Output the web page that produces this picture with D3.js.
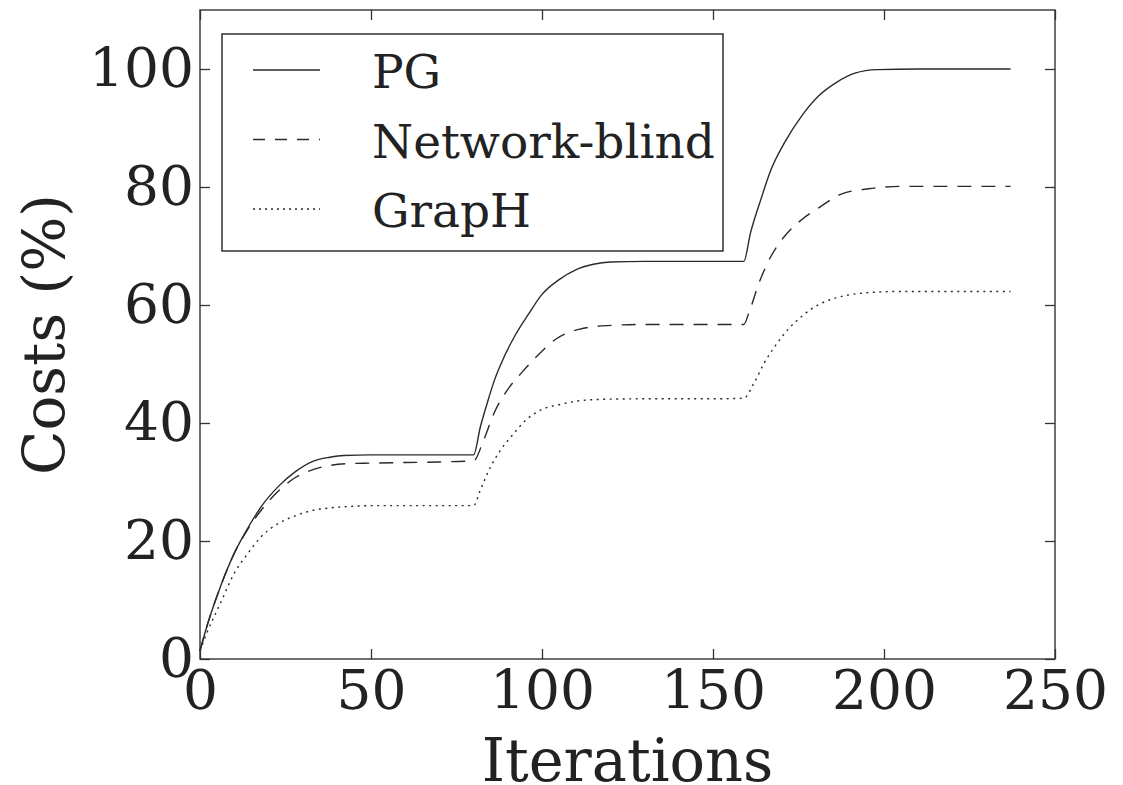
<!DOCTYPE html>
<html lang="en">
<head>
    <meta charset="UTF-8">
    <title>Costs vs Iterations</title>
    <script src="https://d3js.org/d3.v7.min.js"></script>
    <style>
        body {
            margin: 0;
            background: #fff;
        }

        svg text {
            font-family: "DejaVu Serif", serif;
            fill: #222;
        }

        .axis path {
            display: none;
        }

        .axis line {
            stroke: #333;
            stroke-width: 1.3px;
        }

        .series {
            fill: none;
            stroke: #2a2a2a;
            stroke-width: 1.4px;
        }
    </style>
</head>
<body>
    <div id="chart"></div>

    <script>
        // values
        const pgIter = [0, 2, 6, 10, 14, 18, 23, 28, 33, 38, 42, 50, 60, 70, 80, 82, 84, 86, 89, 92, 96, 100, 105, 110, 115, 120, 130, 140, 150, 159, 161, 164, 167, 171, 176, 181, 186, 191.5, 198, 210, 225, 237];
        const pgCost = [1.4, 5.5, 12.3, 17.9, 22.2, 25.9, 29.3, 31.8, 33.5, 34.2, 34.5, 34.6, 34.6, 34.6, 34.6, 39.4, 43.4, 47.1, 51.3, 54.7, 58.4, 61.8, 64.3, 66.0, 66.9, 67.3, 67.4, 67.4, 67.4, 67.4, 72.3, 77.9, 83.0, 87.6, 92.1, 95.5, 97.7, 99.3, 99.9, 100, 100, 100];

        const nbIter = [0, 2, 6, 10, 14, 18, 23, 28, 33, 38, 43, 50, 60, 70, 80, 83, 86, 90, 94, 98.5, 104, 111, 119, 130, 140, 150, 159, 160.5, 163.5, 167, 171, 176, 181, 187.5, 195.5, 205, 220, 237];
        const nbCost = [1.4, 5.5, 12.3, 17.9, 22.0, 25.3, 28.5, 30.8, 32.1, 32.8, 33.1, 33.2, 33.3, 33.4, 33.6, 37.2, 41.7, 45.7, 48.5, 51.3, 54.2, 55.9, 56.5, 56.7, 56.7, 56.7, 56.7, 58.7, 63.8, 68.3, 71.7, 74.5, 76.5, 78.8, 79.7, 80.1, 80.1, 80.1];

        const ghIter = [0, 2, 6, 10, 14, 18, 23, 28, 33, 38, 45, 52, 60, 70, 80, 82, 85, 88, 91, 95.5, 100, 105, 110, 117, 130, 140, 150, 159, 162, 165, 168, 172, 176, 181, 186, 193.5, 205, 220, 237];
        const ghCost = [1.4, 4.4, 9.5, 14.5, 17.9, 20.8, 23.0, 24.3, 25.2, 25.6, 25.9, 26.0, 26.0, 26.0, 26.0, 28.7, 32.6, 35.5, 37.7, 40.6, 42.3, 43.1, 43.7, 44.0, 44.1, 44.1, 44.1, 44.2, 46.8, 50.2, 52.9, 55.9, 58.1, 60.1, 61.2, 62.0, 62.3, 62.3, 62.3];

        const seriesNames = ["PG", "Network-blind", "GrapH"];
        const xTicks = [0, 50, 100, 150, 200, 250];
        const yTicks = [0, 20, 40, 60, 80, 100];

        const width = 1123;
        const height = 785;
        const margin = {top: 10, right: 68, bottom: 126, left: 200};
        const plotW = width - margin.left - margin.right;
        const plotH = height - margin.top - margin.bottom;

        const svg = d3.select("#chart")
            .append("svg")
            .attr("width", width)
            .attr("height", height);

        const g = svg.append("g")
            .attr("transform", `translate(${margin.left},${margin.top})`);

        const x = d3.scaleLinear().domain([0, 250]).range([0, plotW]);
        const y = d3.scaleLinear().domain([0, 110]).range([plotH, 0]);

        // axes, ticks pointing inward on all four sides
        g.append("g")
            .attr("class", "axis")
            .attr("transform", `translate(0,${plotH})`)
            .call(d3.axisBottom(x).tickValues(xTicks).tickSizeInner(-10).tickSizeOuter(0).tickPadding(11))
            .selectAll("text")
            .style("font-size", "55px")
            .attr("fill", "#222");

        g.append("g")
            .attr("class", "axis")
            .call(d3.axisLeft(y).tickValues(yTicks).tickSizeInner(-10).tickSizeOuter(0).tickPadding(6))
            .selectAll("text")
            .style("font-size", "55px")
            .attr("fill", "#222");

        g.append("g")
            .attr("class", "axis")
            .call(d3.axisTop(x).tickValues(xTicks).tickSizeInner(-10).tickSizeOuter(0).tickFormat(""));

        g.append("g")
            .attr("class", "axis")
            .attr("transform", `translate(${plotW},0)`)
            .call(d3.axisRight(y).tickValues(yTicks).tickSizeInner(-10).tickSizeOuter(0).tickFormat(""));

        g.append("rect")
            .attr("width", plotW)
            .attr("height", plotH)
            .attr("fill", "none")
            .attr("stroke", "#333")
            .attr("stroke-width", 1.4);

        // lines
        const line = d3.line()
            .x(d => x(d[0]))
            .y(d => y(d[1]))
            .curve(d3.curveMonotoneX);

        const series = [
            {name: seriesNames[0], pts: d3.zip(pgIter, pgCost), dash: null, key: null},
            {name: seriesNames[1], pts: d3.zip(nbIter, nbCost), dash: "14,10", key: "12,10"},
            {name: seriesNames[2], pts: d3.zip(ghIter, ghCost), dash: "2,4.5", key: "2,4"}
        ];

        g.selectAll(".series")
            .data(series)
            .enter()
            .append("path")
            .attr("class", "series")
            .attr("stroke-dasharray", d => d.dash)
            .attr("d", d => line(d.pts));

        // legend
        const legend = svg.append("g")
            .attr("transform", "translate(222,34)");

        legend.append("rect")
            .attr("width", 501)
            .attr("height", 217)
            .attr("fill", "#fff")
            .attr("stroke", "#222")
            .attr("stroke-width", 1.4);

        const item = legend.selectAll(".item")
            .data(series)
            .enter()
            .append("g")
            .attr("class", "item")
            .attr("transform", (d, i) => `translate(0,${36 + i * 69.5})`);

        item.append("line")
            .attr("x1", 31)
            .attr("x2", 98)
            .attr("stroke", "#2a2a2a")
            .attr("stroke-width", 1.4)
            .attr("stroke-dasharray", d => d.key);

        item.append("text")
            .attr("x", 150)
            .attr("y", 18)
            .style("font-size", "47px")
            .text(d => d.name);

        // axis titles
        svg.append("text")
            .attr("x", margin.left + plotW / 2)
            .attr("y", 781)
            .attr("text-anchor", "middle")
            .style("font-size", "59px")
            .text("Iterations");

        svg.append("text")
            .attr("transform", `translate(64,${margin.top + plotH / 2}) rotate(-90)`)
            .attr("text-anchor", "middle")
            .style("font-size", "58px")
            .text("Costs (%)");
    </script>
</body>
</html>
